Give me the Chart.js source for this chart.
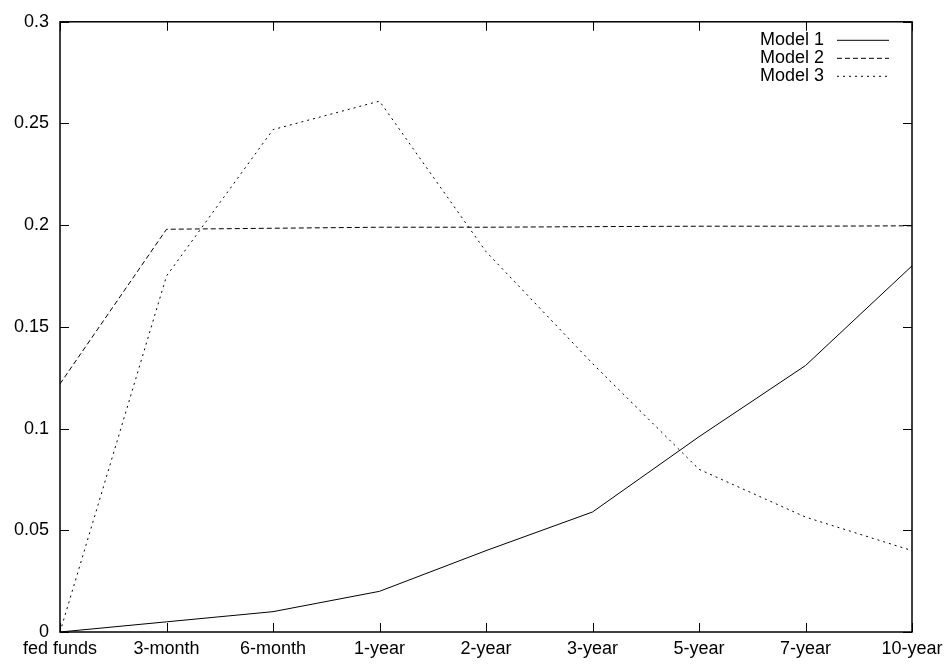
<!DOCTYPE html>
<html>
<head>
<meta charset="utf-8">
<script src="https://cdn.jsdelivr.net/npm/chart.js@4/dist/chart.umd.min.js"></script>
<style>
    html, body { margin: 0; padding: 0; background: #fff; }
    #wrap { width: 951px; height: 666px; }
</style>
</head>
<body>
<div id="wrap"><canvas id="chart" width="951" height="666"></canvas></div>
<script>
    // ===========================================
    // DATA
    // ===========================================
    const maturities = ['fed funds', '3-month', '6-month', '1-year', '2-year', '3-year', '5-year', '7-year', '10-year'];
    const model1 = [0, 0.005, 0.010, 0.020, 0.040, 0.059, 0.096, 0.131, 0.180];
    const model2 = [0.122, 0.198, 0.1985, 0.199, 0.199, 0.1993, 0.1995, 0.1995, 0.1997];
    const model3 = [0, 0.175, 0.247, 0.261, 0.187, 0.132, 0.080, 0.0565, 0.040];
    const yTicks = [0, 0.05, 0.1, 0.15, 0.2, 0.25, 0.3];

    const FONT = 'Liberation Sans, Arial, Helvetica, sans-serif';
    const FONT_SIZE = 18;

    // ===========================================
    // PLUGINS
    // ===========================================
    // gnuplot style frame : border + inward ticks on the four sides
    const framePlugin = {
        id: 'frame',
        afterDatasetsDraw(chart) {
            const { ctx, chartArea: a, scales } = chart;
            ctx.save();
            ctx.strokeStyle = '#000';
            ctx.lineWidth = 1;
            ctx.beginPath();
            scales.x.ticks.forEach((t, i) => {
                const x = Math.round(scales.x.getPixelForTick(i)) + 0.5;
                ctx.moveTo(x, a.bottom); ctx.lineTo(x, a.bottom - 9);
                ctx.moveTo(x, a.top); ctx.lineTo(x, a.top + 9);
            });
            scales.y.ticks.forEach((t, i) => {
                const y = Math.round(scales.y.getPixelForTick(i)) + 0.5;
                ctx.moveTo(a.left, y); ctx.lineTo(a.left + 9, y);
                ctx.moveTo(a.right, y); ctx.lineTo(a.right - 9, y);
            });
            ctx.stroke();
            ctx.lineWidth = 1.5;
            ctx.strokeRect(a.left, a.top, a.right - a.left, a.bottom - a.top);
            ctx.restore();
        }
    };

    // legend in the top right corner : text then line sample
    const keyPlugin = {
        id: 'key',
        afterDraw(chart) {
            const { ctx, chartArea: a } = chart;
            ctx.save();
            ctx.font = FONT_SIZE + 'px ' + FONT;
            ctx.fillStyle = '#000';
            ctx.textAlign = 'right';
            ctx.textBaseline = 'middle';
            chart.data.datasets.forEach((ds, i) => {
                const y = a.top + 18 + i * 18;
                ctx.fillText(ds.label, a.right - 88, y);
                ctx.beginPath();
                ctx.setLineDash(ds.borderDash || []);
                ctx.lineWidth = 1;
                ctx.strokeStyle = '#000';
                ctx.moveTo(a.right - 75, y + 0.5);
                ctx.lineTo(a.right - 23, y + 0.5);
                ctx.stroke();
            });
            ctx.restore();
        }
    };

    // ===========================================
    // CHART
    // ===========================================
    function lineSet(label, data, dash) {
        return {
            label: label,
            data: data,
            borderColor: '#000',
            borderWidth: 1,
            borderDash: dash,
            pointRadius: 0,
            tension: 0,
            fill: false,
        };
    }

    new Chart(document.getElementById('chart'), {
        type: 'line',
        data: {
            labels: maturities,
            datasets: [
                lineSet('Model 1', model1, []),
                lineSet('Model 2', model2, [5, 3]),
                lineSet('Model 3', model3, [2, 4]),
            ]
        },
        options: {
            responsive: false,
            animation: false,
            devicePixelRatio: 1,
            layout: { padding: { top: 20, right: 39, left: 0, bottom: 0 } },
            plugins: {
                legend: { display: false },
                tooltip: { enabled: false },
            },
            scales: {
                x: {
                    offset: false,
                    grid: { display: false, drawTicks: false },
                    border: { display: false },
                    ticks: {
                        color: '#000',
                        font: { family: FONT, size: FONT_SIZE },
                        padding: 6,
                        maxRotation: 0,
                        autoSkip: false,
                    },
                    afterFit(scale) { scale.height = 34; },
                },
                y: {
                    min: 0,
                    max: 0.3,
                    afterBuildTicks(scale) {
                        scale.ticks = yTicks.map(v => ({ value: v }));
                    },
                    grid: { display: false, drawTicks: false },
                    border: { display: false },
                    ticks: {
                        color: '#000',
                        font: { family: FONT, size: FONT_SIZE },
                        padding: 11,
                        callback: v => String(Math.round(v * 100) / 100),
                    },
                    afterFit(scale) { scale.width = 60; },
                }
            }
        },
        plugins: [framePlugin, keyPlugin]
    });
</script>
</body>
</html>
